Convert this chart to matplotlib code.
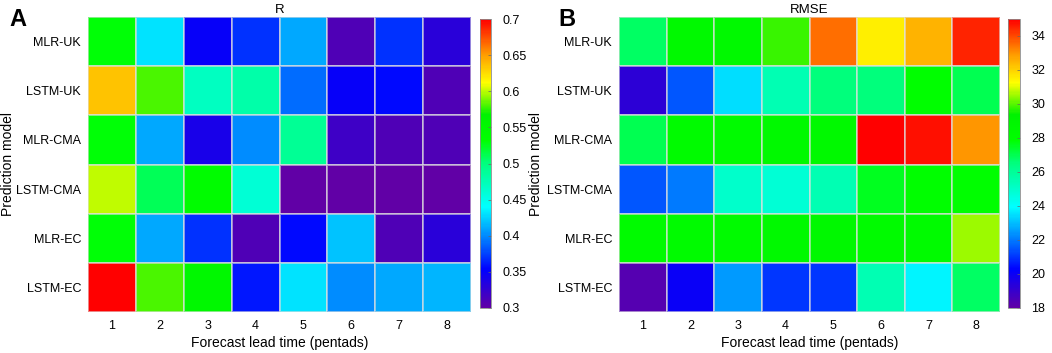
import numpy as np
import matplotlib
matplotlib.use("Agg")
import matplotlib.pyplot as plt
from matplotlib.colors import LinearSegmentedColormap

plt.rcParams['font.family'] = ['Liberation Sans', 'DejaVu Sans']

models = ['MLR-UK', 'LSTM-UK', 'MLR-CMA', 'LSTM-CMA', 'MLR-EC', 'LSTM-EC']
leads = [1, 2, 3, 4, 5, 6, 7, 8]

# R per model (rows) and lead time (columns)
r_vals = [
    [0.53, 0.43, 0.35, 0.37, 0.41, 0.31, 0.37, 0.33],
    [0.635, 0.58, 0.47, 0.48, 0.39, 0.35, 0.355, 0.31],
    [0.53, 0.41, 0.34, 0.40, 0.49, 0.32, 0.31, 0.31],
    [0.60, 0.51, 0.54, 0.46, 0.30, 0.30, 0.30, 0.30],
    [0.53, 0.41, 0.37, 0.31, 0.355, 0.42, 0.31, 0.33],
    [0.70, 0.58, 0.55, 0.36, 0.43, 0.40, 0.41, 0.415],
]

# RMSE per model and lead time
rmse_vals = [
    [26.8, 28.5, 28.5, 29.8, 33.5, 31.5, 32.5, 34.5],
    [19.2, 21.5, 23.5, 25.5, 26.5, 26.5, 28.0, 27.0],
    [27.0, 28.3, 28.3, 28.5, 28.5, 35.0, 34.8, 33.0],
    [21.5, 22.0, 25.0, 24.8, 25.5, 27.5, 28.0, 28.0],
    [28.3, 28.3, 28.3, 28.5, 28.7, 28.3, 28.3, 30.5],
    [18.3, 20.0, 22.5, 21.0, 21.0, 25.5, 23.8, 26.8],
]

# rainbow colormap similar to the figure (purple -> blue -> cyan -> green -> yellow -> red)
cmap = LinearSegmentedColormap.from_list('rb', [
    (0.00, (0.38, 0.0, 0.65)),
    (0.13, (0.0, 0.0, 1.0)),
    (0.24, (0.0, 0.5, 1.0)),
    (0.35, (0.0, 1.0, 1.0)),
    (0.50, (0.0, 1.0, 0.5)),
    (0.58, (0.0, 1.0, 0.0)),
    (0.67, (0.0, 0.95, 0.0)),
    (0.78, (1.0, 1.0, 0.0)),
    (0.88, (1.0, 0.6, 0.0)),
    (1.00, (1.0, 0.0, 0.0)),
])

fig = plt.figure(figsize=(10.52, 3.53), dpi=100)
W, H = 1052, 353

def panel(x0, x1, cx0, cx1, data, vmin, vmax, ticks, ticklabels, title, letter, lx, ylx):
    ax = fig.add_axes([x0 / W, 1 - 312 / H, (x1 - x0) / W, (312 - 17) / H])
    arr = np.array(data)
    m = ax.pcolormesh(np.arange(len(leads) + 1) + 0.5, np.arange(len(models) + 1) + 0.5, arr,
                      cmap=cmap, vmin=vmin, vmax=vmax, edgecolors=(0.88, 0.88, 0.88, 0.6), linewidth=0.3)
    ax.set_xlim(0.5, len(leads) + 0.5)
    ax.set_ylim(len(models) + 0.5, 0.5)
    ax.set_xticks(leads)
    ax.set_yticks(np.arange(1, len(models) + 1))
    ax.set_yticklabels(models)
    ax.tick_params(length=0, labelsize=9, pad=5)
    ax.tick_params(axis='x', pad=6)
    for s in ax.spines.values():
        s.set_visible(False)
    ax.set_xlabel('Forecast lead time (pentads)', fontsize=10, labelpad=3)
    fig.text(ylx / W, 1 - 164 / H, 'Prediction model', fontsize=10, rotation=90,
             ha='center', va='center')
    ax.set_title(title, fontsize=9.5, pad=3)
    fig.text(lx / W, 1 - 20 / H, letter, fontsize=17, fontweight='bold', va='center', ha='left')
    cax = fig.add_axes([cx0 / W, 1 - 308 / H, (cx1 - cx0) / W, (308 - 19) / H])
    cb = fig.colorbar(m, cax=cax, ticks=ticks)
    cb.ax.set_yticklabels(ticklabels)
    cb.ax.tick_params(labelsize=9, length=2, direction='in', width=0.5, pad=8, color=(0.4, 0.4, 0.4))
    cb.outline.set_edgecolor((0.55, 0.55, 0.55))
    cb.outline.set_linewidth(0.6)
    return ax

panel(88, 471, 480, 491, r_vals, 0.3, 0.7,
      [0.3, 0.35, 0.4, 0.45, 0.5, 0.55, 0.6, 0.65, 0.7],
      ['0.3', '0.35', '0.4', '0.45', '0.5', '0.55', '0.6', '0.65', '0.7'],
      'R', 'A', 9, 8)
panel(619, 1000, 1008, 1020, rmse_vals, 18, 35,
      [18, 20, 22, 24, 26, 28, 30, 32, 34],
      ['18', '20', '22', '24', '26', '28', '30', '32', '34'],
      'RMSE', 'B', 558, 536)

fig.savefig('out.png', dpi=100)
